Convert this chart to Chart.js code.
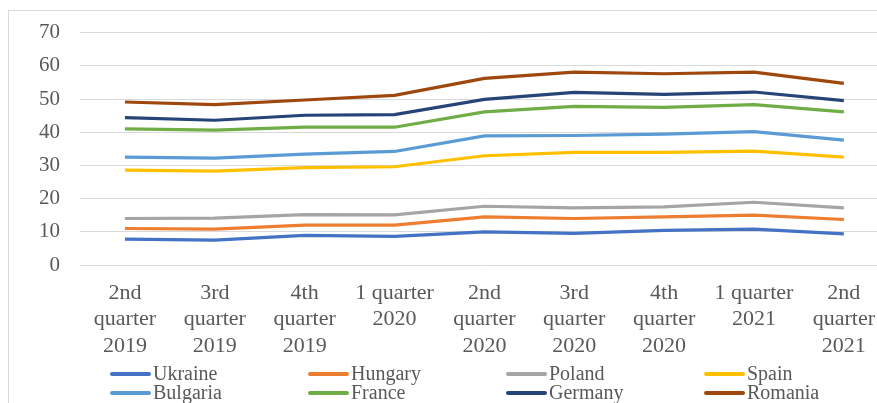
<!DOCTYPE html>
<html lang="en">
<head>
    <meta charset="UTF-8">
    <title>Quarterly chart</title>
    <style>
        html, body { margin: 0; padding: 0; background: #fff; overflow: hidden; }
        .wrap { position: relative; width: 890px; height: 403px; }
        #legend {
            position: absolute; left: 110px; top: 364px;
            display: grid; grid-template-columns: repeat(4, 198px);
            font-family: 'Liberation Serif', 'Times New Roman', serif;
            font-size: 20px; color: #595959;
        }
        #legend .item { height: 19px; line-height: 19px; display: flex; align-items: center; white-space: nowrap; }
        #legend .sw { width: 41px; height: 4px; border-radius: 2px; margin-right: 2px; }
    </style>
</head>
<body>
    <div class="wrap">
        <canvas id="myChart" width="890" height="403"></canvas>
        <div id="legend"></div>
    </div>

    <script src="https://cdn.jsdelivr.net/npm/chart.js"></script>
    <script>
        // categories (multi-line tick labels)
        const quarters = [
            ['2nd', 'quarter', '2019'],
            ['3rd', 'quarter', '2019'],
            ['4th', 'quarter', '2019'],
            ['1 quarter', '2020'],
            ['2nd', 'quarter', '2020'],
            ['3rd', 'quarter', '2020'],
            ['4th', 'quarter', '2020'],
            ['1 quarter', '2021'],
            ['2nd', 'quarter', '2021']
        ];

        // series values
        const ukraine  = [7.8, 7.5, 8.9, 8.6, 10.0, 9.5, 10.4, 10.8, 9.4];
        const hungary  = [11.0, 10.8, 12.0, 12.0, 14.5, 14.0, 14.5, 15.0, 13.7];
        const poland   = [14.0, 14.1, 15.2, 15.1, 17.7, 17.2, 17.5, 18.9, 17.2];
        const spain    = [28.6, 28.3, 29.3, 29.6, 32.9, 33.9, 33.9, 34.3, 32.5];
        const bulgaria = [32.5, 32.2, 33.4, 34.2, 38.9, 39.0, 39.4, 40.2, 37.6];
        const france   = [41.0, 40.6, 41.5, 41.5, 46.1, 47.8, 47.5, 48.3, 46.1];
        const germany  = [44.4, 43.6, 45.1, 45.3, 49.9, 52.0, 51.4, 52.1, 49.5];
        const romania  = [49.1, 48.3, 49.7, 51.1, 56.2, 58.1, 57.6, 58.1, 54.7];

        const yTicks = [0, 10, 20, 30, 40, 50, 60, 70];

        const series = [
            ['Ukraine', ukraine, '#4472C4'],
            ['Hungary', hungary, '#ED7D31'],
            ['Poland', poland, '#A5A5A5'],
            ['Spain', spain, '#FFC000'],
            ['Bulgaria', bulgaria, '#5B9BD5'],
            ['France', france, '#70AD47'],
            ['Germany', germany, '#264478'],
            ['Romania', romania, '#9E480E']
        ];

        Chart.defaults.font.family = "'Liberation Serif', 'Times New Roman', serif";
        Chart.defaults.color = '#595959';

        // light frame round the chart (only top/left show in the crop)
        const frame = {
            id: 'frame',
            beforeDraw(chart) {
                const ctx = chart.ctx;
                ctx.save();
                ctx.strokeStyle = '#d9d9d9';
                ctx.lineWidth = 1;
                ctx.strokeRect(8.5, 10.5, 2000, 2000);
                ctx.restore();
            }
        };

        const data = {
            labels: quarters,
            datasets: series.map(([name, vals, col]) => ({
                label: name,
                data: vals,
                borderColor: col,
                backgroundColor: col,
                borderWidth: 3.2,
                pointRadius: 0,
                tension: 0,
                fill: false
            }))
        };

        const config = {
            type: 'line',
            data,
            options: {
                responsive: false,
                animation: false,
                layout: { padding: { top: 24, left: 0, right: 0, bottom: 0 } },
                plugins: {
                    legend: { display: false },
                    tooltip: { enabled: false }
                },
                scales: {
                    x: {
                        offset: true,
                        grid: { display: false, drawTicks: false },
                        border: { display: false },
                        ticks: {
                            maxRotation: 0,
                            autoSkip: false,
                            padding: 15,
                            color: '#595959',
                            font: { size: 22, lineHeight: 1.2 }
                        },
                        afterFit(scale) { scale.height = 138; }
                    },
                    y: {
                        min: 0,
                        max: 70,
                        afterBuildTicks(scale) { scale.ticks = yTicks.map(v => ({ value: v })); },
                        grid: { color: '#d9d9d9', lineWidth: 1, drawTicks: false },
                        border: { display: false },
                        ticks: {
                            padding: 20,
                            color: '#595959',
                            font: { size: 21 }
                        },
                        afterFit(scale) { scale.width = 80; }
                    }
                }
            },
            plugins: [frame]
        };

        const myChart = new Chart(document.getElementById('myChart'), config);

        // html legend built from the chart's datasets
        const legend = document.getElementById('legend');
        myChart.data.datasets.forEach(ds => {
            const item = document.createElement('div');
            item.className = 'item';
            const sw = document.createElement('span');
            sw.className = 'sw';
            sw.style.background = ds.borderColor;
            const txt = document.createElement('span');
            txt.textContent = ds.label;
            item.appendChild(sw);
            item.appendChild(txt);
            legend.appendChild(item);
        });
    </script>
</body>
</html>
